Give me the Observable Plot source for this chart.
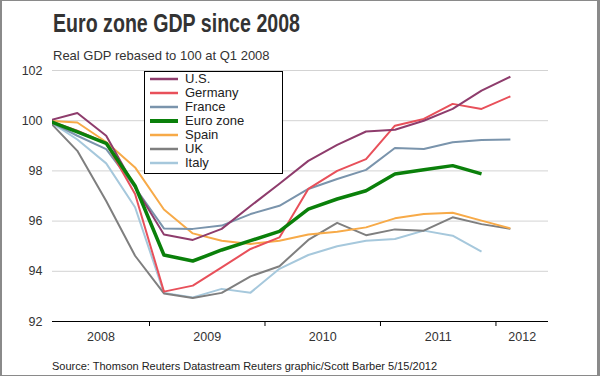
<!DOCTYPE html>
<html>
<head>
<meta charset="utf-8">
<script src="https://cdn.jsdelivr.net/npm/d3@7"></script>
<script src="https://cdn.jsdelivr.net/npm/@observablehq/plot@0.6"></script>
<style>
  body { margin: 0; background: #fff; font-family: "Liberation Sans", Arial, sans-serif; }
  #wrap { position: relative; width: 600px; height: 376px; overflow: hidden; background: #fff; }
  #frame { position: absolute; left: 0; top: 0; width: 600px; height: 376px; box-sizing: border-box;
           border: 1px solid #8a8a8a; border-left-width: 2px; border-right-width: 3px; pointer-events: none; }
  #title { position: absolute; left: 53px; top: 8px; font-size: 26px; line-height: 30px; font-weight: bold;
           color: #333; white-space: nowrap; transform-origin: 0 0; }
  #subtitle { position: absolute; left: 53px; top: 48px; font-size: 13px; line-height: 16px; color: #333; white-space: nowrap; }
  #chart { position: absolute; left: 0; top: 62px; }
  #source { position: absolute; left: 52px; top: 360px; font-size: 11px; line-height: 13px; color: #222; white-space: nowrap; }
  #legend { position: absolute; left: 144px; top: 71px; width: 137px; height: 101px; border: 1px solid #000; background: #fff; }
  .row { position: absolute; left: 0; height: 14px; width: 137px; }
  .row svg { position: absolute; left: 4px; top: 0; }
  .row span { position: absolute; left: 40px; top: 0; font-size: 13px; line-height: 14px; color: #222; white-space: nowrap; }
</style>
</head>
<body>
<div id="wrap">
  <div id="title">Euro zone GDP since 2008</div>
  <div id="subtitle">Real GDP rebased to 100 at Q1 2008</div>
  <div id="chart"></div>
  <div id="legend"></div>
  <div id="source">Source: Thomson Reuters Datastream Reuters graphic/Scott Barber 5/15/2012</div>
  <div id="frame"></div>
</div>
<script>
// ---- data ----
const quarters = ["2008Q1","2008Q2","2008Q3","2008Q4","2009Q1","2009Q2","2009Q3","2009Q4",
                  "2010Q1","2010Q2","2010Q3","2010Q4","2011Q1","2011Q2","2011Q3","2011Q4","2012Q1"];
const us       = [100, 100.31, 99.40, 97.35, 95.47, 95.25, 95.69, 96.60, 97.49, 98.40, 99.04, 99.57, 99.64, 100.00, 100.47, 101.20, 101.75];
const germany  = [100, 99.60, 99.10, 97.08, 93.19, 93.43, 94.16, 94.89, 95.35, 97.28, 98.00, 98.47, 99.80, 100.07, 100.67, 100.47, 100.97];
const france   = [100, 99.40, 98.87, 97.34, 95.71, 95.69, 95.82, 96.28, 96.61, 97.28, 97.68, 98.04, 98.91, 98.87, 99.14, 99.23, 99.25];
const eurozone = [100, 99.55, 99.10, 97.41, 94.65, 94.41, 94.85, 95.22, 95.59, 96.48, 96.88, 97.21, 97.88, 98.05, 98.21, 97.88, null];
const spain    = [100, 99.93, 99.15, 98.14, 96.46, 95.51, 95.22, 95.09, 95.22, 95.47, 95.58, 95.75, 96.11, 96.28, 96.33, 96.02, 95.71];
const uk       = [100, 98.80, 96.80, 94.62, 93.12, 92.94, 93.14, 93.80, 94.20, 95.25, 95.93, 95.44, 95.67, 95.62, 96.15, 95.88, 95.69];
const italy    = [100, 99.25, 98.30, 96.55, 93.14, 92.96, 93.30, 93.15, 94.10, 94.65, 95.00, 95.22, 95.29, 95.62, 95.42, 94.78, null];

const legendNames = ["U.S.", "Germany", "France", "Euro zone", "Spain", "UK", "Italy"];
const yTicks = [92, 94, 96, 98, 100, 102];
const yearBoundaries = [2009, 2010, 2011, 2012];
const yearLabels = ["2008", "2009", "2010", "2011", "2012"];
const xDomain = [2008.16, 2012.455];

// ---- styling ----
const seriesStyle = [
  {name: "U.S.",      values: us,       color: "#8e3c6c", width: 2},
  {name: "Germany",   values: germany,  color: "#e8505a", width: 2},
  {name: "France",    values: france,   color: "#7a94ac", width: 2},
  {name: "Euro zone", values: eurozone, color: "#0a800a", width: 3.5},
  {name: "Spain",     values: spain,    color: "#f7aa48", width: 2},
  {name: "UK",        values: uk,       color: "#7f7f7f", width: 2},
  {name: "Italy",     values: italy,    color: "#a6c8dc", width: 2}
];
const drawOrder = ["Italy", "UK", "Spain", "France", "Germany", "U.S.", "Euro zone"];

const qx = q => +q.slice(0, 4) + (+q.slice(5) - 0.5) / 4;

const lineMarks = drawOrder.map(name => {
  const s = seriesStyle.find(d => d.name === name);
  const rows = quarters.map((q, i) => ({x: qx(q), y: s.values[i]})).filter(d => d.y != null);
  return Plot.line(rows, {x: "x", y: "y", stroke: s.color, strokeWidth: s.width, clip: true,
                          strokeLinejoin: "round", strokeLinecap: "butt"});
});

const labelRows = yearLabels.map((label, i) => {
  const lo = i === 0 ? xDomain[0] : +label;
  const hi = i === yearLabels.length - 1 ? xDomain[1] : +label + 1;
  return {x: (lo + hi) / 2, label};
});

const plot = Plot.plot({
  width: 600,
  height: 290,
  marginLeft: 52,
  marginRight: 52,
  marginTop: 8,
  marginBottom: 31,
  style: {fontFamily: "Liberation Sans, Arial, sans-serif", fontSize: "12.5px", color: "#333", background: "transparent"},
  x: {type: "linear", domain: xDomain},
  y: {domain: [92, 102]},
  marks: [
    Plot.gridY(yTicks.filter(t => t > 92), {stroke: "#d3d3d3", strokeOpacity: 1}),
    Plot.axisY(yTicks, {tickSize: 0, tickPadding: 10, label: null, fontSize: 12.5}),
    Plot.axisX(yearBoundaries, {tickSize: 5, tickFormat: () => "", label: null, stroke: "#000"}),
    ...lineMarks,
    Plot.ruleY([92], {stroke: "#000", strokeWidth: 1.2}),
    Plot.text(labelRows, {x: "x", y: 92, text: "label", dy: 15, fontSize: 12.5, fill: "#333"})
  ]
});
document.getElementById("chart").appendChild(plot);

// ---- legend ----
const legend = document.getElementById("legend");
legendNames.forEach((name, i) => {
  const s = seriesStyle.find(d => d.name === name);
  const row = document.createElement("div");
  row.className = "row";
  row.style.top = (i * 14) + "px";
  row.innerHTML = `<svg width="30" height="14"><line x1="1" x2="29" y1="7" y2="7" stroke="${s.color}" stroke-width="${s.width === 2 ? 2.5 : 4}"/></svg><span>${name}</span>`;
  legend.appendChild(row);
});

// ---- title width fit ----
const title = document.getElementById("title");
const w = title.getBoundingClientRect().width;
title.style.transform = `scaleX(${247 / w})`;
</script>
</body>
</html>
